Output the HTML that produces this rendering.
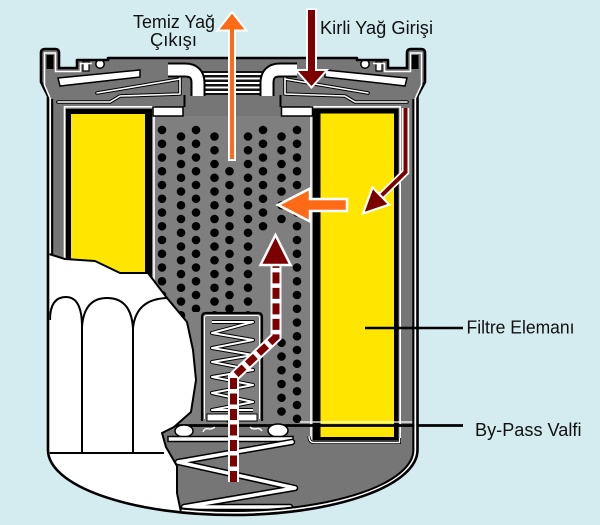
<!DOCTYPE html>
<html><head><meta charset="utf-8"><title>Yağ Filtresi</title>
<style>
html,body{margin:0;padding:0;background:#d4ecef;width:600px;height:525px;overflow:hidden}
svg{display:block}
text{font-family:"Liberation Sans",Arial,sans-serif;font-size:18px;fill:#111}
</style></head><body>
<svg width="600" height="525" viewBox="0 0 600 525" xmlns="http://www.w3.org/2000/svg" xmlns:xlink="http://www.w3.org/1999/xlink">
<defs>
<clipPath id="inside"><path d="M 49.5,90 L 416,90 L 416,450 A 183.25,63.5 0 0 1 49.5,450 Z"/></clipPath>
<clipPath id="tubeclip"><rect x="152" y="125" width="161" height="300"/></clipPath>
<g id="colO" fill="#000">
<circle cx="0" cy="130" r="4.3"/><circle cx="0" cy="143.75" r="4.3"/><circle cx="0" cy="157.5" r="4.3"/><circle cx="0" cy="171.25" r="4.3"/><circle cx="0" cy="185" r="4.3"/><circle cx="0" cy="198.75" r="4.3"/><circle cx="0" cy="212.5" r="4.3"/><circle cx="0" cy="226.25" r="4.3"/><circle cx="0" cy="240" r="4.3"/><circle cx="0" cy="253.75" r="4.3"/><circle cx="0" cy="267.5" r="4.3"/><circle cx="0" cy="281.25" r="4.3"/><circle cx="0" cy="295" r="4.3"/><circle cx="0" cy="308.75" r="4.3"/><circle cx="0" cy="322.5" r="4.3"/><circle cx="0" cy="336.25" r="4.3"/><circle cx="0" cy="350" r="4.3"/><circle cx="0" cy="363.75" r="4.3"/><circle cx="0" cy="377.5" r="4.3"/><circle cx="0" cy="391.25" r="4.3"/><circle cx="0" cy="405" r="4.3"/><circle cx="0" cy="418.75" r="4.3"/>
</g>
<g id="colE" fill="#000">
<circle cx="0" cy="136.5" r="4.3"/><circle cx="0" cy="150.25" r="4.3"/><circle cx="0" cy="164" r="4.3"/><circle cx="0" cy="177.75" r="4.3"/><circle cx="0" cy="191.5" r="4.3"/><circle cx="0" cy="205.25" r="4.3"/><circle cx="0" cy="219" r="4.3"/><circle cx="0" cy="232.75" r="4.3"/><circle cx="0" cy="246.5" r="4.3"/><circle cx="0" cy="260.25" r="4.3"/><circle cx="0" cy="274" r="4.3"/><circle cx="0" cy="287.75" r="4.3"/><circle cx="0" cy="301.5" r="4.3"/><circle cx="0" cy="315.25" r="4.3"/><circle cx="0" cy="329" r="4.3"/><circle cx="0" cy="342.75" r="4.3"/><circle cx="0" cy="356.5" r="4.3"/><circle cx="0" cy="370.25" r="4.3"/><circle cx="0" cy="384" r="4.3"/><circle cx="0" cy="397.75" r="4.3"/><circle cx="0" cy="411.5" r="4.3"/>
</g>
</defs>
<rect width="600" height="525" fill="#d4ecef"/>

<!-- body -->
<path d="M 48,450 L 48,96 L 41,82 L 41,53 Q 41,49 45,49 L 55,49 Q 59,49 59,53 L 59,68 L 77,68 L 77,60 L 108,60 L 108,58 L 357,58 L 357,60 L 388,60 L 388,68 L 407,68 L 407,53 Q 407,49 411,49 L 421,49 Q 425,49 425,53 L 425,82 L 417.5,96 L 417.5,450 A 184.75,65 0 0 1 48,450 Z" fill="#767676"/>

<!-- tube -->
<rect x="152" y="116" width="161" height="309" fill="#7f7f7f"/>
<g clip-path="url(#tubeclip)">
<use xlink:href="#colO" href="#colO" x="162"/>
<use xlink:href="#colE" href="#colE" x="181"/>
<use xlink:href="#colO" href="#colO" x="196"/>
<use xlink:href="#colE" href="#colE" x="214.5"/>
<use xlink:href="#colO" href="#colO" x="229.5"/>
<use xlink:href="#colE" href="#colE" x="248"/>
<use xlink:href="#colO" href="#colO" x="263"/>
<use xlink:href="#colE" href="#colE" x="281.5"/>
<use xlink:href="#colO" href="#colO" x="297"/>
</g>
<g fill="#7f7f7f">
<rect x="224" y="124" width="12" height="41"/>
<rect x="258" y="231" width="10.5" height="194"/>
<rect x="276.5" y="227" width="11.5" height="111"/>
<rect x="191" y="312" width="11" height="113"/>
</g>

<!-- left filter element -->
<rect x="64.5" y="106.8" width="89.5" height="200" fill="none" stroke="#fff" stroke-width="1.6"/>
<rect x="66" y="109" width="86" height="200" fill="#000"/>
<rect x="71" y="114" width="74" height="195" fill="#ffe600"/>

<!-- right filter element -->
<path d="M 311,440 L 311,106.8 L 400.2,106.8 L 400.2,440" fill="none" stroke="#fff" stroke-width="1.6"/>
<rect x="313" y="108.5" width="85.5" height="332" fill="#000"/>
<rect x="320.5" y="113.5" width="73.5" height="323.5" fill="#ffe600"/>
<path d="M 309,436 Q 309,442.5 314,442.5 L 399.5,442.5 L 399.5,438" fill="none" stroke="#000" stroke-width="3"/>
<path d="M 309,436 Q 309,442.5 314,442.5 L 399.5,442.5 L 399.5,438" fill="none" stroke="#fff" stroke-width="1.4"/>

<!-- lid details -->
<polygon points="58,78 140,70 140,77 60,86" fill="#fff" stroke="#000" stroke-width="1.5"/>
<polygon points="407,78 325,70 325,77 405,86" fill="#fff" stroke="#000" stroke-width="1.5"/>
<g fill="none" stroke-linejoin="round" stroke-linecap="round">
<path d="M 97,93 L 180,79 M 58,102 L 110,102 L 120,96 L 180,94 L 180,77 M 368,93 L 285,79 M 407,102 L 355,102 L 345,96 L 285,94 L 285,77" stroke="#000" stroke-width="3.6"/>
<path d="M 97,93 L 180,79 M 58,102 L 110,102 L 120,96 L 180,94 L 180,77 M 368,93 L 285,79 M 407,102 L 355,102 L 345,96 L 285,94 L 285,77" stroke="#fff" stroke-width="1.6"/>
</g>
<rect x="200" y="71" width="65" height="24" fill="#111"/>
<path d="M 202,74 H 263 M 202,78.5 H 263 M 202,83 H 263 M 202,87.5 H 263 M 202,92 H 263" stroke="#fff" stroke-width="2"/>
<path d="M 168,70 H 185 Q 198,70 198,83 V 96" fill="none" stroke="#000" stroke-width="15"/>
<path d="M 168,70 H 185 Q 198,70 198,83 V 96" fill="none" stroke="#fff" stroke-width="11"/>
<path d="M 297,70 H 280 Q 267,70 267,83 V 96" fill="none" stroke="#000" stroke-width="15"/>
<path d="M 297,70 H 280 Q 267,70 267,83 V 96" fill="none" stroke="#fff" stroke-width="11"/>
<rect x="153" y="107" width="30" height="9" fill="#fff" stroke="#000" stroke-width="1.5"/>
<rect x="281.5" y="107" width="31" height="9" fill="#fff" stroke="#000" stroke-width="1.5"/>
<path d="M 184.5,95 V 107 M 280.5,95 V 107" stroke="#000" stroke-width="2"/>
<circle cx="100" cy="64" r="4.2" fill="#fff" stroke="#000" stroke-width="1.5"/>
<circle cx="365" cy="64" r="4.2" fill="#fff" stroke="#000" stroke-width="1.5"/>
<rect x="83" y="62" width="6" height="9" fill="#fff" stroke="#000" stroke-width="1.2"/>
<rect x="376" y="62" width="6" height="9" fill="#fff" stroke="#000" stroke-width="1.2"/>

<!-- spring housing -->
<path d="M 202,421 V 317 Q 202,313 206,313 H 258 Q 262,313 262,317 V 421" fill="#7f7f7f" stroke="#000" stroke-width="2.2"/>
<path d="M 204.5,419 V 318 Q 204.5,315.5 207,315.5 H 257 Q 259.5,315.5 259.5,318 V 419" fill="none" stroke="#fff" stroke-width="1"/>
<polyline points="212,322 253,322 212,333 253,340 212,348 253,355 212,362 253,370 212,377 253,385 212,393 253,402 212,410 253,410" fill="none" stroke="#000" stroke-width="4" stroke-linejoin="round"/>
<polyline points="212,322 253,322 212,333 253,340 212,348 253,355 212,362 253,370 212,377 253,385 212,393 253,402 212,410 253,410" fill="none" stroke="#fff" stroke-width="2" stroke-linejoin="round"/>
<rect x="207" y="414" width="50" height="7" fill="#fff" stroke="#000" stroke-width="1"/>

<!-- valve -->
<path d="M 300,422 H 416" stroke="#fff" stroke-width="1.2"/>
<path d="M 165,425.5 H 463" stroke="#000" stroke-width="2.8"/>
<ellipse cx="184" cy="431" rx="9" ry="6" fill="#fff" stroke="#000" stroke-width="1.5"/>
<ellipse cx="278" cy="430.5" rx="10" ry="6.5" fill="#fff" stroke="#000" stroke-width="1.5"/>
<path d="M 203,432 C 206,425 209,432 215,427 M 250,427 C 255,432 258,425 262,431" fill="none" stroke="#fff" stroke-width="1.4"/>
<rect x="168" y="436.5" width="125" height="5" fill="#fff" stroke="#000" stroke-width="1.5"/>

<!-- big spring -->
<path d="M 178,462 L 292,442 M 178,462 L 295,488 L 184,507 L 290,507" fill="none" stroke="#000" stroke-width="6.5" stroke-linejoin="round" stroke-linecap="round"/>
<path d="M 178,462 L 292,442 M 178,462 L 295,488 L 184,507 L 290,507" fill="none" stroke="#fff" stroke-width="3.5" stroke-linejoin="round" stroke-linecap="round"/>

<!-- inner wall lines -->
<path d="M 50,98 L 50,450 A 182.75,63 0 0 0 415.5,450 L 415.5,98" fill="none" stroke="#fff" stroke-width="2"/>
<path d="M 52.2,99 L 52.2,450 A 180.55,61 0 0 0 413.3,450 L 413.3,99" fill="none" stroke="#000" stroke-width="2"/>

<!-- cutaway -->
<g clip-path="url(#inside)">
<path d="M 40,254 L 49,254 L 65,259 L 95,261 L 120,273 L 148,273 L 167,298 L 187,322 L 193,350 L 196,380 L 191,412 L 174,427 L 162,433 L 166,447 L 177,466 L 177,493 L 183,522 L 30,530 Z" fill="#fff" stroke="#000" stroke-width="2" stroke-linejoin="round"/>
<path d="M 50,320 Q 50,297 66,297 Q 82,297 82,327 M 82,327 Q 84,298 107,298 Q 131,298 133,328 M 133,328 Q 136,299 167,298 M 82,327 V 453 M 133,328 V 453 M 45,453 H 164" fill="none" stroke="#000" stroke-width="2"/>
</g>

<!-- outer outline -->
<path d="M 48,450 L 48,96 L 41,82 L 41,53 Q 41,49 45,49 L 55,49 Q 59,49 59,53 L 59,68 L 77,68 L 77,60 L 108,60 L 108,58 L 357,58 L 357,60 L 388,60 L 388,68 L 407,68 L 407,53 Q 407,49 411,49 L 421,49 Q 425,49 425,53 L 425,82 L 417.5,96 L 417.5,450 A 184.75,65 0 0 1 48,450 Z" fill="none" stroke="#000" stroke-width="2.6" stroke-linejoin="round"/>
<!-- crimp details -->
<rect x="46.5" y="55" width="7" height="14" fill="#000"/>
<rect x="411.5" y="55" width="7" height="14" fill="#000"/>
<path d="M 50,98 L 44.5,85 L 44.5,53 L 55.5,53 L 55.5,71.5 L 80.5,71.5 L 80.5,63.5 L 92,63.5" fill="none" stroke="#fff" stroke-width="1.5"/>
<path d="M 415.5,98 L 421.5,85 L 421.5,53 L 410.5,53 L 410.5,71.5 L 384.5,71.5 L 384.5,63.5 L 373,63.5" fill="none" stroke="#fff" stroke-width="1.5"/>

<!-- red dashed bypass arrow -->
<polyline points="233.5,482 233.5,377 276,337 276,264" fill="none" stroke="#fff" stroke-width="11" stroke-linejoin="miter"/>
<polyline points="233.5,482 233.5,377 276,337 276,264" fill="none" stroke="#7d0000" stroke-width="7" stroke-dasharray="11 4.5" stroke-linejoin="miter"/>
<polygon points="275.5,235 290.5,265 260.5,265" fill="#7d0000" stroke="#fff" stroke-width="2.5"/>

<!-- thin red arrow right -->
<path d="M 405.5,108 V 172 L 381,196" fill="none" stroke="#fff" stroke-width="7.5"/>
<path d="M 405.5,108 V 172 L 381,196" fill="none" stroke="#7d0000" stroke-width="4"/>
<polygon points="363,213.5 389.3,204.6 372.5,187.4" fill="#7d0000" stroke="#fff" stroke-width="2.2"/>

<!-- orange arrows -->
<polygon points="232,12 246.5,30.5 235,30.5 235,160 229,160 229,30.5 217.5,30.5" fill="#ff6a17" stroke="#fff" stroke-width="2"/>
<polygon points="278,205 310,188.5 310,199 347,199 347,211 310,211 310,221.5" fill="#ff6a17" stroke="#fff" stroke-width="2.5"/>

<!-- red inlet arrow -->
<polygon points="311.5,87.5 327,70 316,70 316,9 307,9 307,70 296,70" fill="#7d0000" stroke="#fff" stroke-width="2"/>

<!-- leader -->
<path d="M 365,328 H 463" stroke="#000" stroke-width="2.5"/>

<!-- labels -->
<text x="133" y="28" textLength="82" lengthAdjust="spacingAndGlyphs">Temiz Yağ</text>
<text x="150" y="46" textLength="47" lengthAdjust="spacingAndGlyphs">Çıkışı</text>
<text x="320" y="34" textLength="113" lengthAdjust="spacingAndGlyphs">Kirli Yağ Girişi</text>
<text x="466.5" y="333.5" textLength="108" lengthAdjust="spacingAndGlyphs">Filtre Elemanı</text>
<text x="475" y="436" textLength="106.5" lengthAdjust="spacingAndGlyphs">By-Pass Valfi</text>
</svg>
</body></html>
